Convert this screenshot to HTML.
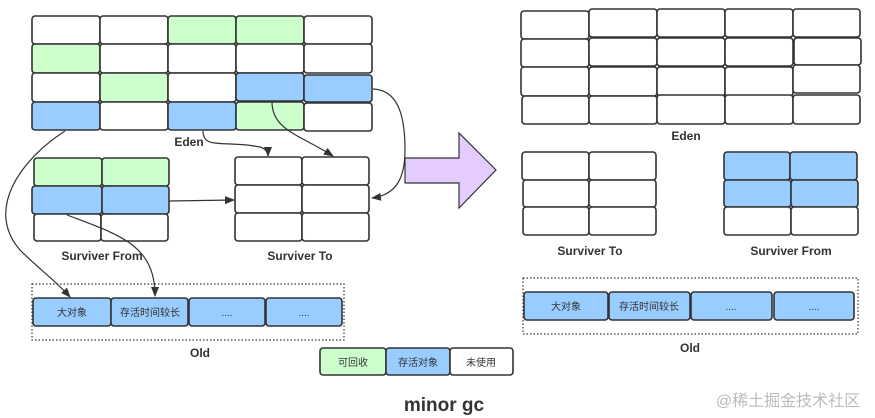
<!DOCTYPE html>
<html><head><meta charset="utf-8"><style>
body{margin:0;background:#fff;}
svg{display:block;font-family:"Liberation Sans","Noto Sans CJK SC",sans-serif;}
.c{stroke:#333;stroke-width:1.6;}
.l{font-size:12px;font-weight:bold;fill:#333;text-anchor:middle;}
.t{font-size:10px;fill:#333;text-anchor:middle;}
.a{fill:none;stroke:#333;stroke-width:1.2;}
</style></head><body>
<svg width="875" height="418" viewBox="0 0 875 418" xmlns="http://www.w3.org/2000/svg">
<defs><marker id="m" markerWidth="10" markerHeight="8" refX="9" refY="4" orient="auto" markerUnits="userSpaceOnUse"><path d="M0,0 L10,4 L0,8 Z" fill="#333"/></marker></defs>
<!-- Left Eden -->
<g class="c">
<rect x="32" y="16" width="68" height="28" rx="3" fill="#fff"/><rect x="100" y="16" width="68" height="28" rx="3" fill="#fff"/><rect x="168" y="16" width="68" height="28" rx="3" fill="#ccffcc"/><rect x="236" y="16" width="68" height="28" rx="3" fill="#ccffcc"/><rect x="304" y="16" width="68" height="28" rx="3" fill="#fff"/>
<rect x="32" y="44" width="68" height="29" rx="3" fill="#ccffcc"/><rect x="100" y="44" width="68" height="29" rx="3" fill="#fff"/><rect x="168" y="44" width="68" height="29" rx="3" fill="#fff"/><rect x="236" y="44" width="68" height="29" rx="3" fill="#fff"/><rect x="304" y="44" width="68" height="29" rx="3" fill="#fff"/>
<rect x="32" y="73" width="68" height="29" rx="3" fill="#fff"/><rect x="100" y="73" width="68" height="29" rx="3" fill="#ccffcc"/><rect x="168" y="73" width="68" height="29" rx="3" fill="#fff"/><rect x="236" y="73" width="68" height="28" rx="3" fill="#99ccff"/><rect x="304" y="75" width="68" height="27" rx="3" fill="#99ccff"/>
<rect x="32" y="102" width="68" height="28" rx="3" fill="#99ccff"/><rect x="100" y="102" width="68" height="28" rx="3" fill="#fff"/><rect x="168" y="102" width="68" height="28" rx="3" fill="#99ccff"/><rect x="236" y="102" width="68" height="28" rx="3" fill="#ccffcc"/><rect x="304" y="103" width="68" height="28" rx="3" fill="#fff"/>
</g>
<text class="l" x="189" y="146">Eden</text>
<!-- Left Surv From -->
<g class="c">
<rect x="34" y="158" width="68" height="28" rx="3" fill="#ccffcc"/><rect x="102" y="158" width="67" height="28" rx="3" fill="#ccffcc"/>
<rect x="32" y="186" width="70" height="28" rx="3" fill="#99ccff"/><rect x="102" y="186" width="67" height="28" rx="3" fill="#99ccff"/>
<rect x="34" y="214" width="67" height="27" rx="3" fill="#fff"/><rect x="101" y="214" width="67" height="27" rx="3" fill="#fff"/>
</g>
<text class="l" x="102" y="260">Surviver From</text>
<!-- Left Surv To -->
<g class="c" fill="#fff">
<rect x="235" y="157" width="67" height="28" rx="3"/><rect x="302" y="157" width="67" height="28" rx="3"/>
<rect x="235" y="185" width="67" height="28" rx="3"/><rect x="302" y="185" width="67" height="28" rx="3"/>
<rect x="235" y="213" width="67" height="28" rx="3"/><rect x="302" y="213" width="67" height="28" rx="3"/>
</g>
<text class="l" x="300" y="260">Surviver To</text>
<!-- Left Old -->
<rect x="32" y="284" width="312" height="56" fill="none" stroke="#333" stroke-width="1.2" stroke-dasharray="1.5,2"/>
<g class="c" fill="#99ccff">
<rect x="33" y="298" width="78" height="28" rx="3"/><rect x="111" y="298" width="77" height="28" rx="3"/><rect x="189" y="298" width="76" height="28" rx="3"/><rect x="266" y="298" width="76" height="28" rx="3"/>
</g>
<text class="t" x="72" y="316">大对象</text><text class="t" x="150" y="316">存活时间较长</text><text class="t" x="227" y="316">....</text><text class="t" x="304" y="316">....</text>
<text class="l" x="200" y="357">Old</text>
<!-- connectors -->
<path class="a" d="M65,131 C20,160 -15,210 20,250 C40,270 55,280 70,297" marker-end="url(#m)"/>
<path class="a" d="M67,215 C120,235 155,245 155,296" marker-end="url(#m)"/>
<path class="a" d="M169,201 L234,200" marker-end="url(#m)"/>
<path class="a" d="M203,131 C203,150 225,140 260,147 C266,149 268,152 268,156" marker-end="url(#m)"/>
<path class="a" d="M272,102 C272,130 300,135 333,156" marker-end="url(#m)"/>
<path class="a" d="M373,89 C400,90 405,120 405,150 C405,180 395,195 372,198" marker-end="url(#m)"/>
<!-- purple arrow -->
<path d="M405,158 L459,158 L459,133 L496,170 L459,208 L459,183 L405,183 Z" fill="#e5ccff" stroke="#333" stroke-width="1.2"/>
<!-- Right Eden -->
<g class="c" fill="#fff">
<rect x="521" y="11" width="68" height="28" rx="3"/><rect x="589" y="9" width="68" height="28" rx="3"/><rect x="657" y="9" width="68" height="28" rx="3"/><rect x="725" y="9" width="68" height="28" rx="3"/><rect x="793" y="9" width="67" height="28" rx="3"/>
<rect x="521" y="39" width="68" height="28" rx="3"/><rect x="589" y="38" width="68" height="28" rx="3"/><rect x="657" y="38" width="68" height="28" rx="3"/><rect x="725" y="38" width="68" height="28" rx="3"/><rect x="794" y="38" width="67" height="27" rx="3"/>
<rect x="521" y="67" width="68" height="29" rx="3"/><rect x="589" y="67" width="68" height="29" rx="3"/><rect x="657" y="67" width="68" height="29" rx="3"/><rect x="725" y="67" width="68" height="29" rx="3"/><rect x="793" y="65" width="67" height="28" rx="3"/>
<rect x="522" y="96" width="67" height="28" rx="3"/><rect x="589" y="96" width="68" height="28" rx="3"/><rect x="657" y="95" width="68" height="29" rx="3"/><rect x="725" y="95" width="68" height="29" rx="3"/><rect x="793" y="95" width="67" height="29" rx="3"/>
</g>
<text class="l" x="686" y="140">Eden</text>
<!-- Right Surv To -->
<g class="c" fill="#fff">
<rect x="522" y="152" width="67" height="28" rx="3"/><rect x="589" y="152" width="67" height="28" rx="3"/>
<rect x="523" y="180" width="66" height="27" rx="3"/><rect x="589" y="180" width="67" height="27" rx="3"/>
<rect x="523" y="207" width="66" height="28" rx="3"/><rect x="589" y="207" width="67" height="28" rx="3"/>
</g>
<text class="l" x="590" y="255">Surviver To</text>
<!-- Right Surv From -->
<g class="c">
<rect x="724" y="152" width="66" height="28" rx="3" fill="#99ccff"/><rect x="790" y="152" width="67" height="28" rx="3" fill="#99ccff"/>
<rect x="724" y="180" width="67" height="27" rx="3" fill="#99ccff"/><rect x="791" y="180" width="67" height="27" rx="3" fill="#99ccff"/>
<rect x="724" y="207" width="67" height="28" rx="3" fill="#fff"/><rect x="791" y="207" width="67" height="28" rx="3" fill="#fff"/>
</g>
<text class="l" x="791" y="255">Surviver From</text>
<!-- Right Old -->
<rect x="523" y="278" width="335" height="56" fill="none" stroke="#333" stroke-width="1.2" stroke-dasharray="1.5,2"/>
<g class="c" fill="#99ccff">
<rect x="524" y="292" width="84" height="28" rx="3"/><rect x="609" y="292" width="81" height="28" rx="3"/><rect x="691" y="292" width="81" height="28" rx="3"/><rect x="774" y="292" width="80" height="28" rx="3"/>
</g>
<text class="t" x="566" y="310">大对象</text><text class="t" x="649" y="310">存活时间较长</text><text class="t" x="731" y="310">....</text><text class="t" x="814" y="310">....</text>
<text class="l" x="690" y="352">Old</text>
<!-- legend -->
<g class="c">
<rect x="320" y="348" width="66" height="27" rx="3" fill="#ccffcc"/><rect x="386" y="348" width="64" height="27" rx="3" fill="#99ccff"/><rect x="450" y="348" width="63" height="27" rx="3" fill="#fff"/>
</g>
<text class="t" x="353" y="366">可回收</text><text class="t" x="418" y="366">存活对象</text><text class="t" x="481" y="366">未使用</text>
<text x="444" y="411" style="font-size:19px;font-weight:bold;fill:#333;text-anchor:middle">minor gc</text>
<text x="788" y="406" style="font-size:16px;fill:#bbb;text-anchor:middle">@稀土掘金技术社区</text>
</svg>
</body></html>
